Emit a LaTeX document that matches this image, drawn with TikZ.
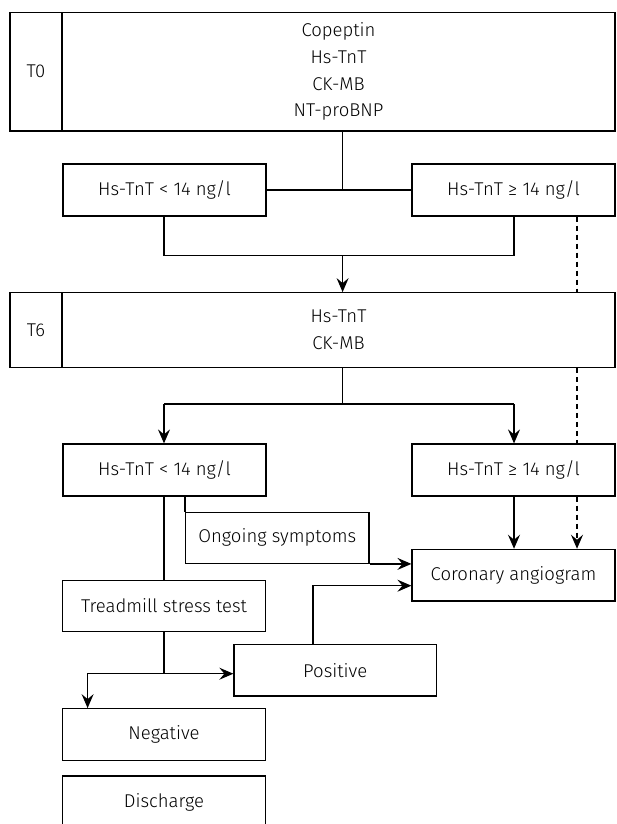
\documentclass[tikz,border=0pt]{standalone}
\usepackage{fontspec}
\setmainfont{Fira Sans Light}
\usetikzlibrary{arrows.meta}
\tikzset{
  box/.style={draw, line width=1.2pt, fill=white, inner sep=0pt, align=center, font=\fontsize{18.5}{26.6}\selectfont},
  conn/.style={line width=1.2pt},
  arr/.style={line width=1.2pt, -{Stealth[length=14pt,width=12pt,inset=5pt]}},
  darr/.style={line width=1.2pt, dash pattern=on 5pt off 4pt, -{Stealth[length=14pt,width=12pt,inset=5pt]}},
  dl/.style={line width=1.2pt, dash pattern=on 5pt off 4pt}
}
\begin{document}
\begin{tikzpicture}[x=1pt,y=-1pt]
\useasboundingbox (0,0) rectangle (616,824);
% T0
\node[box, minimum width=52pt, minimum height=118.7pt] (t0l) at (36,71.7) {T0};
\node[box, minimum width=553pt, minimum height=118.7pt] (t0m) at (338.5,71.7) {Copeptin\\Hs-TnT\\CK-MB\\NT-proBNP};
% level 1
\node[box, minimum width=203pt, minimum height=52pt] (a1) at (164.5,190) {Hs-TnT < 14 ng/l};
\node[box, minimum width=203pt, minimum height=52pt] (a2) at (513.5,190) {Hs-TnT ≥ 14 ng/l};
% T6
\node[box, minimum width=52pt, minimum height=74.6pt] (t6l) at (36,330) {T6};
\node[box, minimum width=553pt, minimum height=74.6pt] (t6m) at (338.5,330) {Hs-TnT\\CK-MB};
% level 2
\node[box, minimum width=203pt, minimum height=52pt] (b1) at (164.5,470) {Hs-TnT < 14 ng/l};
\node[box, minimum width=203pt, minimum height=52pt] (b2) at (513.5,470) {Hs-TnT ≥ 14 ng/l};
\node[box, minimum width=183.3pt, minimum height=51pt] (og) at (277.3,537.8) {Ongoing symptoms};
\node[box, minimum width=203pt, minimum height=51.7pt] (ca) at (513.5,575.2) {Coronary angiogram};
\node[box, minimum width=203pt, minimum height=51.4pt] (tm) at (164,606) {Treadmill stress test};
\node[box, minimum width=202.5pt, minimum height=51.7pt] (po) at (335.2,670.2) {Positive};
\node[box, minimum width=203pt, minimum height=51.6pt] (ne) at (164,734.5) {Negative};
\node[box, minimum width=203pt, minimum height=52pt] (di) at (164,802) {Discharge};
% coordinates
\coordinate (j1) at (342.6,190);
\coordinate (m1) at (164,255.3);
\coordinate (m2) at (514,255.3);
\coordinate (mc) at (342.6,255.3);
\coordinate (d1) at (577,216);
\coordinate (s1) at (342.6,404);
\coordinate (sl) at (164,404);
\coordinate (sr) at (514,404);
\coordinate (p1) at (313,585.7);
\coordinate (n1) at (164,673.7);
\coordinate (n2) at (87.6,673.7);
% connectors
\draw[conn] (t0m.south -| j1) -- (j1);
\draw[conn] (a1.east) -- (a2.west);
\draw[conn] (a1.south -| m1) -- (m1) -- (m2) -- (a2.south -| m2);
\draw[arr] (mc) -- (t6m.north -| mc);
\draw[dl] (a2.south -| d1) -- (t6m.north -| d1);
\draw[dl] (t6m.south -| d1) -- (b2.north -| d1);
\draw[darr] (b2.south -| d1) -- (ca.north -| d1);
\draw[conn] (t6m.south -| s1) -- (s1);
\draw[conn] (sl) -- (sr);
\draw[arr] (sl) -- (b1.north -| sl);
\draw[arr] (sr) -- (b2.north -| sr);
\draw[arr] (b2.south -| sr) -- (ca.north -| sr);
\draw[conn] (b1.south -| sl) -- (tm.north -| sl);
\draw[conn] (b1.south -| og.west) -- (og.north west);
\draw[arr] (og.south east) -- (og.south east -| ca.west);
\draw[arr] (po.north -| p1) -- (p1) -- (p1 -| ca.west);
\draw[conn] (tm.south -| n1) -- (n1);
\draw[arr] (n1) -- (n2) -- (ne.north -| n2);
\draw[arr] (n1) -- (n1 -| po.west);
\end{tikzpicture}
\end{document}
